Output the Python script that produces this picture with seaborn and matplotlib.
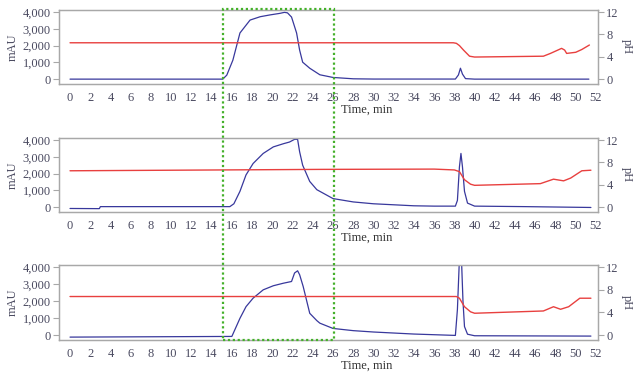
import matplotlib
matplotlib.use("Agg")
import matplotlib.pyplot as plt
import matplotlib.transforms as mtransforms
from matplotlib.patches import Rectangle
from matplotlib.ticker import FuncFormatter
import seaborn as sns
import pandas as pd

sns.set_style("white")
plt.rcParams['font.family'] = ['Liberation Serif', 'DejaVu Serif']

# ---- data ----
t1_uv = [0, 15.1, 15.5, 16.1, 16.8, 17.8, 18.8, 19.8, 20.75, 21.2, 21.5, 21.9, 22.4, 22.7, 23.0, 23.7, 24.7, 26, 28, 30, 38.1, 38.4, 38.6, 38.8, 39.1, 40, 51.3]
uv1 = [0, 0, 240, 1130, 2750, 3520, 3720, 3830, 3920, 3980, 3950, 3700, 2750, 1730, 1010, 650, 260, 100, 20, 5, 5, 250, 650, 300, 30, 0, 0]
t1_ph = [0, 37.9, 38.2, 38.5, 38.9, 39.5, 40, 46.8, 47.5, 48.6, 48.9, 49.1, 50, 50.6, 51.35]
ph1 = [6.5, 6.5, 6.4, 6.0, 5.2, 4.1, 3.95, 4.1, 4.6, 5.5, 5.2, 4.6, 4.8, 5.3, 6.1]

t2_uv = [0, 2.9, 3.0, 15.8, 16.2, 16.8, 17.4, 18.1, 19.1, 20.1, 21.1, 21.7, 22.2, 22.5, 22.7, 23.0, 23.7, 24.4, 26, 28, 30, 32, 34, 36, 38.1, 38.3, 38.5, 38.65, 38.8, 39.0, 39.3, 40, 45, 51.5]
uv2 = [-80, -90, 30, 30, 200, 940, 1920, 2600, 3200, 3590, 3780, 3880, 4040, 4040, 3300, 2500, 1530, 1040, 510, 310, 200, 140, 80, 60, 60, 400, 2400, 3200, 2400, 940, 240, 60, 30, -20]
t2_ph = [0, 25, 36, 38, 38.5, 39, 39.6, 40, 46.5, 47.8, 48.8, 49.5, 50.6, 51.5]
ph2 = [6.5, 6.75, 6.8, 6.65, 6.35, 4.9, 4.1, 3.9, 4.2, 5.0, 4.7, 5.2, 6.5, 6.6]

t3_uv = [0, 16, 16.8, 17.4, 18.1, 19.1, 20.1, 21.1, 21.9, 22.2, 22.5, 22.7, 23.05, 23.7, 24.4, 24.7, 26, 28, 30, 34, 38.1, 38.3, 38.5, 38.7, 38.85, 39.0, 39.3, 40, 51.5]
uv3 = [-120, -80, 985, 1670, 2170, 2660, 2900, 3050, 3150, 3650, 3780, 3550, 2860, 1280, 850, 700, 390, 260, 180, 60, -20, 1500, 4500, 4500, 2000, 500, 50, -40, -60]
t3_ph = [0, 38.2, 38.5, 39, 39.6, 40, 46.8, 47.8, 48.5, 49.3, 50.4, 51.5]
ph3 = [6.8, 6.8, 6.5, 5.0, 4.1, 3.85, 4.25, 5.0, 4.55, 5.0, 6.5, 6.5]

uv_ticks = [0, 1000, 2000, 3000, 4000]
ph_ticks = [0, 4, 8, 12]
x_ticks = list(range(0, 53, 2))
fraction = (15.1, 26.05)

panels = [(t1_uv, uv1, t1_ph, ph1), (t2_uv, uv2, t2_ph, ph2), (t3_uv, uv3, t3_ph, ph3)]

BLUE = "#38389c"
RED = "#e8403f"
GRAY = "#a8a8a8"
TXT = "#4a4a60"

fig = plt.figure(figsize=(6.37, 3.78), dpi=100)
W, H = 637, 378
tops = [10, 138, 265]
bots = [84, 212, 340]
left_px, right_px = 59, 598

axes = []
for i, (tu, u, tp, p) in enumerate(panels):
    ax = fig.add_axes([left_px / W, (H - bots[i]) / H, (right_px - left_px) / W, (bots[i] - tops[i]) / H])
    axes.append(ax)
    sns.lineplot(x=tu, y=u, ax=ax, color=BLUE, lw=0.9, sort=False, estimator=None)
    ax.set_xlim(-1.09, 52.2)
    ylo, yhi = -290, 4120
    ax.set_ylim(ylo, yhi)
    ax.set_yticks(uv_ticks)
    ax.yaxis.set_major_formatter(FuncFormatter(lambda v, pos: f"{int(v):,}"))
    ax.set_xticks(x_ticks)
    ax.set_ylabel("mAU", fontsize=9, color=TXT, labelpad=3)
    ax.set_xlabel("Time, min", fontsize=9, color="#333333")
    ax.xaxis.set_label_coords((367 - left_px) / (right_px - left_px), -20 / (bots[i] - tops[i]))
    ax.tick_params(axis='both', which='both', direction='out', length=4, width=0.8,
                   color=GRAY, labelsize=9, labelcolor=TXT, pad=2)
    for s in ax.spines.values():
        s.set_color(GRAY)
        s.set_linewidth(0.9)

    ax2 = ax.twinx()
    sns.lineplot(x=tp, y=p, ax=ax2, color=RED, lw=1.0, sort=False, estimator=None)
    ax2.set_ylim(ylo / 333.33, yhi / 333.33)
    ax2.set_yticks(ph_ticks)
    ax2.set_ylabel("pH", fontsize=9, color=TXT, rotation=-90, labelpad=10)
    ax2.tick_params(axis='y', direction='out', length=4, width=0.8, color=GRAY,
                    labelsize=9, labelcolor=TXT, pad=2)
    for s in ax2.spines.values():
        s.set_color(GRAY)
        s.set_linewidth(0.9)
    ax2.set_xlim(-1.09, 52.2)

# green dotted fraction box spanning all panels
trans = mtransforms.blended_transform_factory(axes[0].transData, fig.transFigure)
y_top = (H - 9.5) / H
y_bot = (H - bots[2]) / H
rect = Rectangle((fraction[0], y_bot), fraction[1] - fraction[0], y_top - y_bot,
                 transform=trans, fill=False, edgecolor="#44b02a", lw=1.6,
                 linestyle=(0, (1, 1.2)), clip_on=False, zorder=10)
fig.add_artist(rect)

fig.savefig("out.png", dpi=100)
